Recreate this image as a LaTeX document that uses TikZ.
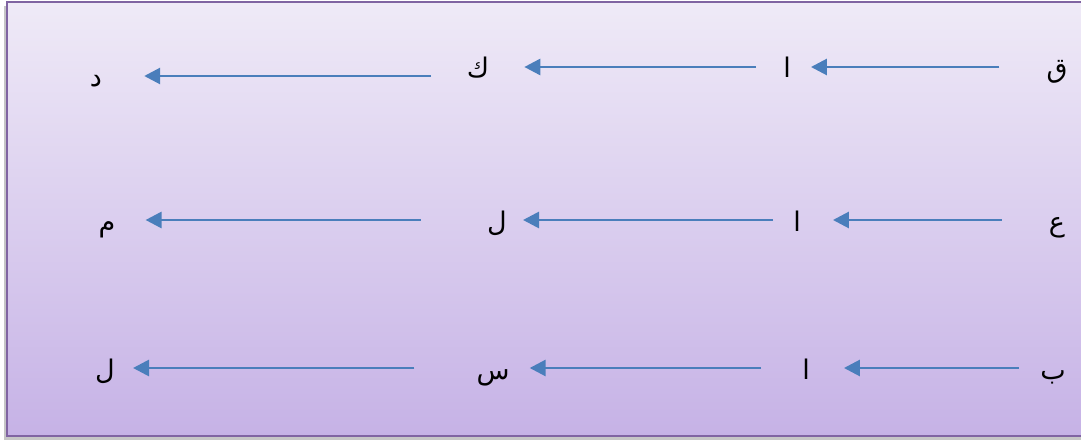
\documentclass[tikz,border=0pt]{standalone}
\usepackage{fontspec}
\usepackage{xcolor}
\usepackage{tikz}
\usetikzlibrary{arrows.meta}
\TeXXeTstate=1
\newfontfamily\arabicfont[Script=Arabic]{DejaVu Sans}
\definecolor{arrowblue}{HTML}{4A7EBB}
\definecolor{frame}{HTML}{8064A2}
\definecolor{bgtop}{HTML}{EFEAF7}
\definecolor{bgbottom}{HTML}{C6B2E6}
\tikzset{
  letter/.style={inner sep=0pt, text height=25pt, text depth=3pt, font=\arabicfont\fontsize{27}{30}\selectfont},
  arr/.style={draw=arrowblue, line width=2.8pt, -{Triangle[length=16pt,width=16pt]}},
}

\begin{document}
\begin{tikzpicture}[x=1pt,y=-1pt]
  \useasboundingbox (0,0) rectangle (1081,441);
  \fill[gray!45] (4,6) rectangle (1090,440);
  \shade[top color=bgtop, bottom color=bgbottom, draw=frame, line width=2pt] (7,2.5) rectangle (1090,436);
  % row 1
  \node[letter] (q) at (1057,67) {\beginR ق\endR};
  \node[letter] (a1) at (787,67) {\beginR ا\endR};
  \node[letter] (k) at (478,67) {\beginR ك\endR};
  \node[letter] (d) at (96,76) {\beginR د\endR};
  \draw[arr, shorten <=47pt, shorten >=20pt] (q) -- (a1);
  \draw[arr, shorten <=27pt, shorten >=35pt] (a1) -- (k);
  \draw[arr, shorten <=47pt, shorten >=42pt] (d -| k) -- (d);
  % row 2
  \node[letter] (e) at (1057,220) {\beginR ع\endR};
  \node[letter] (a2) at (797,220) {\beginR ا\endR};
  \node[letter] (l1) at (497,220) {\beginR ل\endR};
  \node[letter] (m) at (107,220) {\beginR م\endR};
  \draw[arr, shorten <=47pt, shorten >=32pt] (e) -- (a2);
  \draw[arr, shorten <=20pt, shorten >=16pt] (a2) -- (l1);
  \draw[arr, shorten <=66pt, shorten >=30pt] (l1) -- (m);
  % row 3
  \node[letter] (b) at (1053,368) {\beginR ب\endR};
  \node[letter] (a3) at (806,368) {\beginR ا\endR};
  \node[letter] (s) at (493,368) {\beginR س\endR};
  \node[letter] (l2) at (105,368) {\beginR ل\endR};
  \draw[arr, shorten <=21pt, shorten >=34pt] (b) -- (a3);
  \draw[arr, shorten <=41pt, shorten >=20pt] (a3) -- (s);
  \draw[arr, shorten <=62pt, shorten >=18pt] (s) -- (l2);
\end{tikzpicture}
\end{document}
